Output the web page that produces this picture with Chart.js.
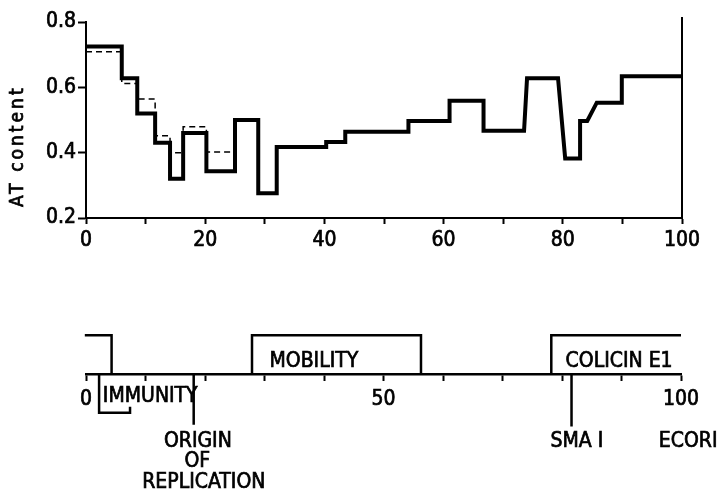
<!DOCTYPE html>
<html>
<head>
<meta charset="utf-8">
<script src="https://cdn.jsdelivr.net/npm/chart.js@4.4.1/dist/chart.umd.min.js"></script>
<style>
  html, body { margin: 0; padding: 0; background: #fff; }
  #wrap { position: relative; width: 718px; height: 490px; }
  .box { position: absolute; left: 0; width: 718px; }
</style>
</head>
<body>
<div id="wrap">
  <div class="box" style="top:0;height:250px"><canvas id="atChart"></canvas></div>
  <div class="box" style="top:250px;height:240px"><canvas id="mapChart"></canvas></div>
</div>
<script>
const FONT = '"DejaVu Sans Condensed", "Liberation Sans Narrow", "DejaVu Sans", sans-serif';

// AT content along the plasmid (kb), solid curve: block start, block end, level
const solidStart = [0, 6.0, 8.6, 11.6, 14.1, 16.3, 20.2, 25.0, 28.9, 32.0, 40.3, 43.5, 54.1, 61.0, 66.7, 74.0, 80.4, 82.9, 85.7, 89.9];
const solidEnd   = [6.0, 8.6, 11.6, 14.1, 16.3, 20.2, 25.0, 28.9, 32.0, 40.3, 43.5, 54.1, 61.0, 66.7, 73.5, 79.2, 82.9, 84.1, 89.9, 100];
const solidAT    = [0.725, 0.628, 0.52, 0.43, 0.32, 0.46, 0.343, 0.50, 0.276, 0.417, 0.433, 0.464, 0.497, 0.559, 0.467, 0.628, 0.382, 0.497, 0.553, 0.634];

// dashed curve (first 25 kb only)
const dashedStart = [0, 6.0, 8.6, 11.6, 14.1, 16.3, 20.2];
const dashedEnd   = [6.0, 8.6, 11.6, 14.1, 16.3, 20.2, 25.0];
const dashedAT    = [0.709, 0.612, 0.564, 0.452, 0.40, 0.479, 0.402];

const yTicks = [0.2, 0.4, 0.6, 0.8];
const yTitle = 'AT content';

// genetic map (kb)
const regionStart = [-0.2, 27.9, 78.2];
const regionEnd   = [4.3, 56.3, 100];
const regionLeftSide  = [false, true, true];
const regionRightSide = [true, true, false];
const immunityStart = 2.2;
const immunityEnd = 7.4;
const siteKb = [18.1, 81.6];
const siteDepth = [-1.31, -1.36];

const mapLabels = ['IMMUNITY', 'MOBILITY', 'COLICIN E1', 'ORIGIN', 'OF', 'REPLICATION', 'SMA I', 'ECORI'];
const mapLabelKb = [10.8, 38.3, 89.6, 18.8, 18.7, 19.8, 82.5, 101.2];
const mapLabelLevel = [-0.59, 0.33, 0.33, -1.75, -2.26, -2.81, -1.75, -1.75];

function blocks(starts, ends, levels) {
  const pts = [];
  starts.forEach((s, i) => {
    pts.push({ x: s, y: levels[i] });
    pts.push({ x: ends[i], y: levels[i] });
  });
  return pts;
}

const lineStyle = { borderColor: '#000', pointRadius: 0, tension: 0, borderCapStyle: 'butt', borderJoinStyle: 'miter', fill: false };
const tickFont = { family: FONT, size: 21 };

const atFrame = {
  id: 'atFrame',
  afterDraw(chart) {
    const { ctx, chartArea, scales: { x, y } } = chart;
    const px = x.getPixelForValue(100);
    ctx.save();
    ctx.strokeStyle = '#000';
    ctx.lineWidth = 2;
    ctx.beginPath();
    ctx.moveTo(px, chartArea.top - 5);
    ctx.lineTo(px, chartArea.bottom);
    ctx.stroke();
    ctx.translate(18, y.getPixelForValue(0.42));
    ctx.rotate(-Math.PI / 2);
    ctx.font = '19px ' + FONT;
    ctx.letterSpacing = '3px';
    ctx.textAlign = 'center';
    ctx.textBaseline = 'middle';
    ctx.fillStyle = '#000';
    ctx.lineWidth = 0.7;
    ctx.fillText(yTitle, 0, 0);
    ctx.strokeText(yTitle, 0, 0);
    ctx.restore();
  }
};

new Chart(document.getElementById('atChart'), {
  type: 'line',
  data: {
    datasets: [
      { ...lineStyle, data: blocks(solidStart, solidEnd, solidAT), borderWidth: 4 },
      { ...lineStyle, data: blocks(dashedStart, dashedEnd, dashedAT), borderWidth: 1.5, borderDash: [6, 4] }
    ]
  },
  options: {
    responsive: true,
    maintainAspectRatio: false,
    animation: false,
    layout: { padding: { left: 0, right: 36, top: 22, bottom: 0 } },
    plugins: { legend: { display: false }, tooltip: { enabled: false } },
    scales: {
      x: {
        type: 'linear', min: 0, max: 100,
        afterFit: s => { s.height = 32; },
        border: { display: true, color: '#000', width: 2 },
        grid: { drawOnChartArea: false, drawTicks: true, tickLength: 6, tickWidth: 2, tickColor: '#000' },
        ticks: {
          stepSize: 10, color: '#000', padding: 4, maxRotation: 0,
          font: tickFont, textStrokeColor: '#000', textStrokeWidth: 0.7,
          callback: v => (v % 20 === 0 ? v : '')
        }
      },
      y: {
        min: 0.2, max: 0.8,
        afterFit: s => { s.width = 86; },
        afterBuildTicks: s => { s.ticks = yTicks.map(v => ({ value: v })); },
        border: { display: true, color: '#000', width: 2 },
        grid: { drawOnChartArea: false, drawTicks: true, tickLength: 8, tickWidth: 2, tickColor: '#000' },
        ticks: {
          color: '#000', padding: 2,
          font: tickFont, textStrokeColor: '#000', textStrokeWidth: 0.7,
          callback: v => v.toFixed(1)
        }
      }
    }
  },
  plugins: [atFrame]
});

// map chart
const mapSets = [];
regionStart.forEach((s, i) => {
  const pts = [];
  if (regionLeftSide[i]) pts.push({ x: s, y: 0 });
  pts.push({ x: s, y: 1 }, { x: regionEnd[i], y: 1 });
  if (regionRightSide[i]) pts.push({ x: regionEnd[i], y: 0 });
  mapSets.push({ ...lineStyle, data: pts, borderWidth: 2.5, clip: false });
});
mapSets.push({
  ...lineStyle, borderWidth: 2.5, clip: false,
  data: [{ x: immunityStart, y: 0 }, { x: immunityStart, y: -1 }, { x: immunityEnd, y: -1 }, { x: immunityEnd, y: -0.85 }]
});
siteKb.forEach((k, i) => {
  mapSets.push({ ...lineStyle, borderWidth: 2.5, clip: false, data: [{ x: k, y: 0 }, { x: k, y: siteDepth[i] }] });
});

const mapText = {
  id: 'mapText',
  afterDraw(chart) {
    const { ctx, scales: { x, y } } = chart;
    ctx.save();
    ctx.font = '21px ' + FONT;
    ctx.textAlign = 'center';
    ctx.textBaseline = 'middle';
    ctx.fillStyle = '#000';
    ctx.strokeStyle = '#000';
    ctx.lineWidth = 0.7;
    mapLabels.forEach((t, i) => {
      const px = x.getPixelForValue(mapLabelKb[i]);
      const py = y.getPixelForValue(mapLabelLevel[i]);
      ctx.fillText(t, px, py);
      ctx.strokeText(t, px, py);
    });
    ctx.restore();
  }
};

new Chart(document.getElementById('mapChart'), {
  type: 'line',
  data: { datasets: mapSets },
  options: {
    responsive: true,
    maintainAspectRatio: false,
    animation: false,
    layout: { padding: { left: 86, right: 37, top: 66, bottom: 0 } },
    plugins: { legend: { display: false }, tooltip: { enabled: false } },
    scales: {
      x: {
        type: 'linear', min: 0, max: 100,
        afterFit: s => { s.height = 116; },
        border: { display: true, color: '#000', width: 2.5 },
        grid: { drawOnChartArea: false, drawTicks: true, tickLength: 7, tickWidth: 2, tickColor: '#000' },
        ticks: {
          stepSize: 10, color: '#000', padding: 6, maxRotation: 0,
          font: tickFont, textStrokeColor: '#000', textStrokeWidth: 0.7,
          callback: v => (v % 50 === 0 ? v : '')
        }
      },
      y: { display: false, min: 0, max: 1.5 }
    }
  },
  plugins: [mapText]
});
</script>
</body>
</html>
